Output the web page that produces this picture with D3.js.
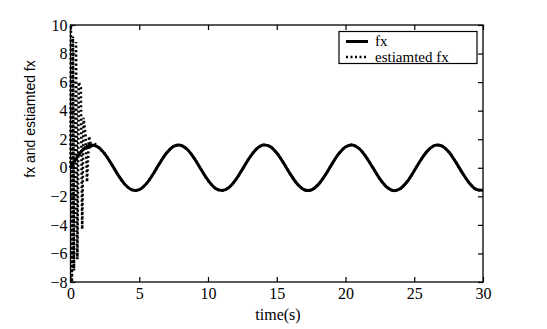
<!DOCTYPE html>
<html><head><meta charset="utf-8">
<script src="https://cdn.jsdelivr.net/npm/d3@7"></script>
<style>body{margin:0;background:#fff}</style>
</head><body>
<svg id="c" width="547" height="329"></svg>
<script>
const xTicks = [0, 5, 10, 15, 20, 25, 30];
const yTicks = [-8, -6, -4, -2, 0, 2, 4, 6, 8, 10];
const fxTime = d3.range(0, 30.01, 0.5);
const fxValue = [0, 0.77, 1.35, 1.60, 1.45, 0.96, 0.23, -0.56, -1.21, -1.56, -1.53, -1.13, -0.45, 0.34, 1.05, 1.50, 1.58, 1.28, 0.66, -0.12, -0.87, -1.41, -1.60, -1.40, -0.86, -0.11, 0.67, 1.29, 1.59, 1.50, 1.04, 0.33, -0.46, -1.14, -1.54, -1.56, -1.20, -0.55, 0.24, 0.97, 1.46, 1.60, 1.34, 0.75, -0.01, -0.78, -1.35, -1.60, -1.45, -0.95, -0.21, 0.58, 1.22, 1.57, 1.53, 1.12, 0.43, -0.36, -1.06, -1.51, -1.58];
const estEarlyTime = [0, 0.03, 0.1, 0.17, 0.25, 0.4, 0.5, 0.6, 0.75, 0.85, 0.95, 1.1, 1.2, 1.35, 1.5, 1.75];
const estEarlyValue = [0, 10, -8, 9.2, -7.2, 8.8, -6.4, 6.0, 5.6, -4.3, 3.5, 2.2, -1.0, 2.2, 1.5, 1.7];

const svg = d3.select("#c");
const L = 70.5, R = 483, T = 25, B = 282;
const x = d3.scaleLinear().domain([0, 30]).range([L, R]);
const y = d3.scaleLinear().domain([-8, 10]).range([B, T]);
const font = "'Liberation Serif', 'Times New Roman', serif";

// frame
svg.append("rect").attr("x", L).attr("y", T).attr("width", R - L).attr("height", B - T)
  .attr("fill", "none").attr("stroke", "#000").attr("stroke-width", 1.3);

const tl = 5;
const gx = svg.append("g").attr("transform", `translate(0,${B})`)
  .call(d3.axisBottom(x).tickValues(xTicks).tickSize(-tl).tickPadding(6));
const gxt = svg.append("g").attr("transform", `translate(0,${T})`)
  .call(d3.axisTop(x).tickValues(xTicks).tickSize(-tl).tickFormat(""));
const gy = svg.append("g").attr("transform", `translate(${L},0)`)
  .call(d3.axisLeft(y).tickValues(yTicks).tickSize(-tl).tickPadding(3).tickFormat(d => d < 0 ? "\u2212" + Math.abs(d) : d));
const gyr = svg.append("g").attr("transform", `translate(${R},0)`)
  .call(d3.axisRight(y).tickValues(yTicks).tickSize(-tl).tickFormat(""));
[gx, gxt, gy, gyr].forEach(g => {
  g.attr("font-family", font).attr("font-size", 16);
  g.select(".domain").remove();
  g.selectAll("line").attr("stroke", "#000").attr("stroke-width", 1.2);
  g.selectAll("text").attr("fill", "#000");
});

// data lines
const fxData = fxTime.map((t, i) => [t, fxValue[i]]);
const estData = estEarlyTime.map((t, i) => [t, estEarlyValue[i]])
  .concat(fxData.filter(d => d[0] >= 2));
const line = d3.line().x(d => x(d[0])).y(d => y(d[1])).curve(d3.curveCatmullRom);
const lineLin = d3.line().x(d => x(d[0])).y(d => y(d[1]));

svg.append("path").attr("d", line(fxData)).attr("fill", "none")
  .attr("stroke", "#000").attr("stroke-width", 3);
svg.append("path").attr("d", lineLin(estData.filter(d => d[0] < 2))).attr("fill", "none")
  .attr("stroke", "#000").attr("stroke-width", 2.6).attr("stroke-dasharray", "2,2.5");
svg.append("path").attr("d", line(estData.filter(d => d[0] >= 1.75))).attr("fill", "none")
  .attr("stroke", "#000").attr("stroke-width", 2.6).attr("stroke-dasharray", "2,2.5");

// labels
svg.append("text").attr("x", 278).attr("y", 320).attr("text-anchor", "middle")
  .attr("font-family", font).attr("font-size", 16).text("time(s)");
svg.append("text").attr("transform", "translate(35,119) rotate(-90)").attr("text-anchor", "middle")
  .attr("font-family", "'Liberation Sans', Arial, sans-serif").attr("font-size", 14).text("fx and estiamted fx");

// legend
const lg = svg.append("g");
lg.append("rect").attr("x", 339).attr("y", 31.5).attr("width", 138).attr("height", 32)
  .attr("fill", "#fff").attr("stroke", "#000").attr("stroke-width", 1.2);
lg.append("line").attr("x1", 346).attr("x2", 368).attr("y1", 41.5).attr("y2", 41.5)
  .attr("stroke", "#000").attr("stroke-width", 3);
lg.append("line").attr("x1", 346).attr("x2", 368).attr("y1", 57).attr("y2", 57)
  .attr("stroke", "#000").attr("stroke-width", 2.6).attr("stroke-dasharray", "2,2.5");
lg.append("text").attr("x", 375).attr("y", 45.5).attr("font-family", font).attr("font-size", 15).text("fx");
lg.append("text").attr("x", 375).attr("y", 61.5).attr("font-family", font).attr("font-size", 15).text("estiamted fx");
</script>
</body></html>
